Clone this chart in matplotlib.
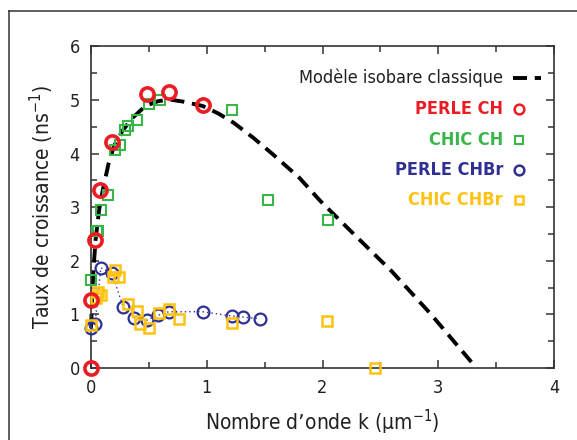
import matplotlib
matplotlib.use("Agg")
import matplotlib.pyplot as plt
from matplotlib.lines import Line2D
from matplotlib.ticker import MultipleLocator

plt.rcParams['font.family'] = ['DejaVu Sans']
plt.rcParams['font.stretch'] = 'condensed'

# Growth rate measurements: wavenumber k (µm^-1) and growth rate (ns^-1)
perle_ch_k = [0.0, 0.0, 0.035, 0.08, 0.18, 0.48, 0.67, 0.965]
perle_ch_g = [0.0, 1.27, 2.38, 3.33, 4.22, 5.11, 5.15, 4.91]

chic_ch_k = [0.0, 0.05, 0.06, 0.09, 0.15, 0.21, 0.25, 0.295, 0.32, 0.40, 0.50, 0.60, 1.22, 1.53, 2.05]
chic_ch_g = [1.64, 2.55, 2.56, 2.94, 3.23, 4.06, 4.16, 4.44, 4.52, 4.63, 4.92, 5.0, 4.81, 3.14, 2.77]

perle_chbr_k = [0.0, 0.035, 0.085, 0.18, 0.28, 0.37, 0.48, 0.575, 0.67, 0.965, 1.22, 1.31, 1.46]
perle_chbr_g = [0.75, 0.83, 1.87, 1.77, 1.13, 0.94, 0.89, 0.98, 1.05, 1.05, 0.97, 0.95, 0.92]

chic_chbr_k = [0.0, 0.046, 0.06, 0.085, 0.19, 0.21, 0.24, 0.32, 0.40, 0.425, 0.50, 0.59, 0.67, 0.76, 1.22, 2.04, 2.455]
chic_chbr_g = [0.80, 1.30, 1.42, 1.36, 1.70, 1.82, 1.69, 1.19, 1.06, 0.83, 0.75, 1.03, 1.11, 0.92, 0.84, 0.88, 0.0]

# Classical isobaric model curve
model_k = [0.0, 0.01, 0.02, 0.04, 0.07, 0.10, 0.15, 0.20, 0.27, 0.35, 0.47, 0.58, 0.68,
           0.80, 0.965, 1.10, 1.23, 1.40, 1.57, 1.80, 1.98, 2.27, 2.60, 2.93, 3.33]
model_g = [0.75, 1.30, 1.80, 2.40, 2.95, 3.30, 3.80, 4.15, 4.42, 4.65, 4.89, 4.98, 5.01,
           4.97, 4.89, 4.75, 4.58, 4.30, 3.99, 3.55, 3.12, 2.50, 1.80, 1.02, 0.0]

legend_labels = ["Modèle isobare classique", "PERLE CH", "CHIC CH", "PERLE CHBr", "CHIC CHBr"]

RED = "#ED1C24"
GREEN = "#39B54A"
BLUE = "#2E3192"
YELLOW = "#FFC20E"
DARK = "#231F20"

fig = plt.figure(figsize=(5.77, 4.40), dpi=100)
ax = fig.add_axes([91 / 577, 1 - 368 / 440, (554 - 91) / 577, (368 - 46.5) / 440])

ax.plot(model_k, model_g, color="black", lw=2.8, dashes=(3.6, 2.0), zorder=2)

ax.plot(perle_chbr_k, perle_chbr_g, color=BLUE, lw=1.0, ls=(0, (1, 2.2)), zorder=3)
ax.plot(perle_chbr_k, perle_chbr_g, ls="none", marker="o", ms=8.5, mfc="none",
        mec=BLUE, mew=1.6, zorder=4)
ax.plot(chic_chbr_k, chic_chbr_g, ls="none", marker="s", ms=7.5, mfc="none",
        mec=YELLOW, mew=1.8, zorder=5)
ax.plot(chic_ch_k, chic_ch_g, ls="none", marker="s", ms=6.5, mfc="none",
        mec=GREEN, mew=1.5, zorder=5)
ax.plot(perle_ch_k, perle_ch_g, ls="none", marker="o", ms=9.5, mfc="none",
        mec=RED, mew=2.6, zorder=6)
for line in ax.lines:
    line.set_clip_on(False)

ax.set_xlim(0, 4)
ax.set_ylim(0, 6)
ax.xaxis.set_major_locator(MultipleLocator(1))
ax.xaxis.set_minor_locator(MultipleLocator(0.5))
ax.yaxis.set_major_locator(MultipleLocator(1))
ax.yaxis.set_minor_locator(MultipleLocator(0.5))
ax.tick_params(which="both", direction="in", top=True, right=True, color="#333333",
               width=1.1, labelcolor=DARK, labelsize=13)
ax.tick_params(which="major", length=6, pad=8)
ax.tick_params(which="minor", length=4)
for sp in ax.spines.values():
    sp.set_color("#333333")
    sp.set_linewidth(1.2)

ax.set_xlabel("Nombre d\u2019onde k (\u03bcm$^{-1}$)", fontsize=15, color=DARK, labelpad=8)
ax.set_ylabel("Taux de croissance (ns$^{-1}$)", fontsize=15, color=DARK, labelpad=10)

# Legend, text right-aligned with the symbol on its right
text_x = 0.89
mark_x = 0.924
rows = [0.902, 0.806, 0.709, 0.616, 0.523]
colors = [DARK, RED, GREEN, BLUE, YELLOW]
weights = ["normal", "bold", "bold", "bold", "bold"]
for lab, yv, c, w in zip(legend_labels, rows, colors, weights):
    ax.text(text_x, yv, lab, transform=ax.transAxes, ha="right", va="center",
            fontsize=13, color=c, fontweight=w)
ax.plot([0.911, 0.972], [rows[0], rows[0]], transform=ax.transAxes, color="black",
        lw=2.8, dashes=(3.6, 2.0), clip_on=False)
ax.plot([mark_x], [rows[1]], transform=ax.transAxes, marker="o", ms=7, mfc="none",
        mec=RED, mew=1.8, clip_on=False)
ax.plot([mark_x], [rows[2]], transform=ax.transAxes, marker="s", ms=6, mfc="none",
        mec=GREEN, mew=1.5, clip_on=False)
ax.plot([mark_x], [rows[3]], transform=ax.transAxes, marker="o", ms=7, mfc="none",
        mec=BLUE, mew=1.8, clip_on=False)
ax.plot([mark_x], [rows[4]], transform=ax.transAxes, marker="s", ms=6, mfc="none",
        mec=YELLOW, mew=1.8, clip_on=False)

# Frame lines along the left and top edges of the figure
fig.add_artist(Line2D([9 / 577, 9 / 577], [0, 1 - 11 / 440], color="#333333", lw=1.1))
fig.add_artist(Line2D([9 / 577, 1], [1 - 11 / 440, 1 - 11 / 440], color="#333333", lw=1.1))

fig.savefig("out.png", dpi=100)
